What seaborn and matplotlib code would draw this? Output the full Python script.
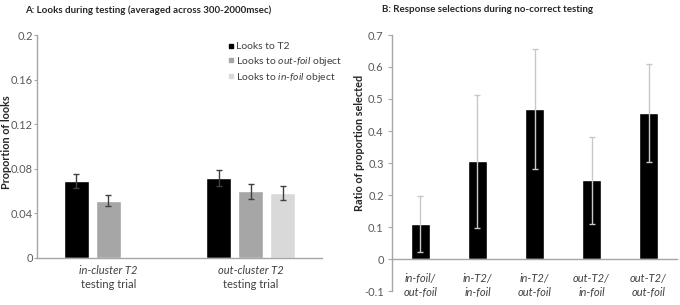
import numpy as np
import pandas as pd
import seaborn as sns
import matplotlib.pyplot as plt
from matplotlib.lines import Line2D
from matplotlib.transforms import blended_transform_factory

# Panel A data
trial_types = ["in-cluster T2", "out-cluster T2"]
look_types = ["Looks to T2", "Looks to out-foil object", "Looks to in-foil object"]
looks_t2 = [0.069, 0.0715]
looks_outfoil = [0.0512, 0.0598]
looks_infoil = [np.nan, 0.0585]
err_t2 = [0.0065, 0.007]
err_outfoil = [0.005, 0.0065]
err_infoil = [np.nan, 0.0065]

# Panel B data
pairings = ["in-foil/\nout-foil", "in-T2/\nin-foil", "in-T2/\nout-foil",
            "out-T2/\nin-foil", "out-T2/\nout-foil"]
ratios = [0.11, 0.307, 0.47, 0.247, 0.457]
ratio_lo = [0.022, 0.097, 0.28, 0.11, 0.303]
ratio_hi = [0.198, 0.512, 0.657, 0.382, 0.61]

sns.set_style("white")
plt.rcParams["font.family"] = ["Lato", "DejaVu Sans"]
plt.rcParams["mathtext.fontset"] = "custom"
plt.rcParams["mathtext.it"] = "Lato:italic"
plt.rcParams["mathtext.rm"] = "Lato"

axis_gray = "#a6a6a6"
tick_gray = "#595959"
colors_a = ["#000000", "#a6a6a6", "#d9d9d9"]

fig = plt.figure(figsize=(6.8, 3.05), dpi=100)
ax_a = fig.add_axes([37 / 680, 47 / 305, 285 / 680, 223 / 305])
ax_b = fig.add_axes([392 / 680, 14 / 305, 285 / 680, 256 / 305])

# ---- Panel A ----
df_a = pd.DataFrame({
    "trial": trial_types * 3,
    "look": np.repeat(look_types, 2),
    "value": looks_t2 + looks_outfoil + looks_infoil,
    "err": err_t2 + err_outfoil + err_infoil,
})
sns.barplot(data=df_a, x="trial", y="value", hue="look", order=trial_types,
            hue_order=look_types, palette=colors_a, width=0.675, gap=0.22,
            errorbar=None, legend=False, ax=ax_a, saturation=1)

for i, look in enumerate(look_types):
    cont = ax_a.containers[i]
    sub = df_a[df_a["look"] == look].dropna()
    for bar, (_, row) in zip(cont, sub.iterrows()):
        xc = bar.get_x() + bar.get_width() / 2
        ax_a.errorbar(xc, row["value"], yerr=row["err"], color="#404040",
                      capsize=2.2, elinewidth=1, capthick=1)

ax_a.set_xlim(-0.5, 1.5)
ax_a.set_ylim(0, 0.2)
ax_a.set_yticks([0, 0.04, 0.08, 0.12, 0.16, 0.2])
ax_a.set_yticklabels(["0", "0.04", "0.08", "0.12", "0.16", "0.2"])
ax_a.set_xticks([])
ax_a.set_xlabel("")
ax_a.set_ylabel("Proportion of looks", fontsize=7.8, fontweight="bold")
ax_a.yaxis.set_label_coords(-0.088, 0.52)
ax_a.tick_params(axis="y", labelsize=8, colors=axis_gray, labelcolor=tick_gray,
                 length=2, width=0.8, direction="out", left=True, pad=1)
for s in ["top", "right"]:
    ax_a.spines[s].set_visible(False)
for s in ["left", "bottom"]:
    ax_a.spines[s].set_color(axis_gray)
    ax_a.spines[s].set_linewidth(1)

tr = blended_transform_factory(ax_a.transData, ax_a.transAxes)
for i, t in enumerate(trial_types):
    ax_a.text(i, -0.055, t, transform=tr, ha="center", va="center",
              fontsize=8, style="italic", color="#404040")
    ax_a.text(i, -0.118, "testing trial", transform=tr, ha="center",
              va="center", fontsize=8, color="#404040")

leg_labels = ["Looks to T2", "Looks to $out$-$foil$ object",
              "Looks to $in$-$foil$ object"]
handles = [Line2D([], [], marker="s", linestyle="", color=c, markersize=3.5)
           for c in colors_a]
ax_a.legend(handles, leg_labels, loc="upper left",
            bbox_to_anchor=(223 / 680, 1 - 37 / 305),
            bbox_transform=fig.transFigure, frameon=False, fontsize=7.5,
            handlelength=0.5, handletextpad=0.25, labelspacing=0.3,
            borderpad=0, labelcolor="#404040")

fig.text(25 / 680, 1 - 10 / 305,
         "A: Looks during testing (averaged across 300-2000msec)",
         fontsize=7, fontweight="bold", ha="left", va="center")

# ---- Panel B ----
df_b = pd.DataFrame({"pair": pairings, "ratio": ratios,
                     "lo": ratio_lo, "hi": ratio_hi})
sns.barplot(data=df_b, x="pair", y="ratio", color="black", width=0.32,
            errorbar=None, ax=ax_b, saturation=1)
for bar, (_, row) in zip(ax_b.patches, df_b.iterrows()):
    xc = bar.get_x() + bar.get_width() / 2
    ax_b.errorbar(xc, row["ratio"],
                  yerr=[[row["ratio"] - row["lo"]], [row["hi"] - row["ratio"]]],
                  color="#c8c8c8", capsize=2, elinewidth=1, capthick=1)

ax_b.set_xlim(-0.5, 4.5)
ax_b.set_ylim(-0.1, 0.7)
ax_b.set_yticks(np.arange(-0.1, 0.71, 0.1))
ax_b.set_yticklabels(["-0.1", "0", "0.1", "0.2", "0.3", "0.4", "0.5", "0.6", "0.7"])
ax_b.set_xlabel("")
ax_b.set_ylabel("Ratio of proportion selected", fontsize=7.8, fontweight="bold")
ax_b.yaxis.set_label_coords(-0.095, 0.58)
ax_b.spines["bottom"].set_position(("data", 0))
for s in ["top", "right"]:
    ax_b.spines[s].set_visible(False)
for s in ["left", "bottom"]:
    ax_b.spines[s].set_color(axis_gray)
    ax_b.spines[s].set_linewidth(1)
ax_b.tick_params(axis="y", labelsize=8, colors=axis_gray, labelcolor=tick_gray,
                 length=3, width=0.8, direction="out", left=True, pad=3)
ax_b.tick_params(axis="x", length=0, pad=10, labelsize=8, labelcolor="#404040")
for lab in ax_b.get_xticklabels():
    lab.set_fontstyle("italic")
    lab.set_linespacing(1.35)

fig.text(382 / 680, 1 - 10 / 305,
         "B: Response selections during no-correct testing",
         fontsize=7, fontweight="bold", ha="left", va="center")

fig.savefig("out.png", dpi=100)
